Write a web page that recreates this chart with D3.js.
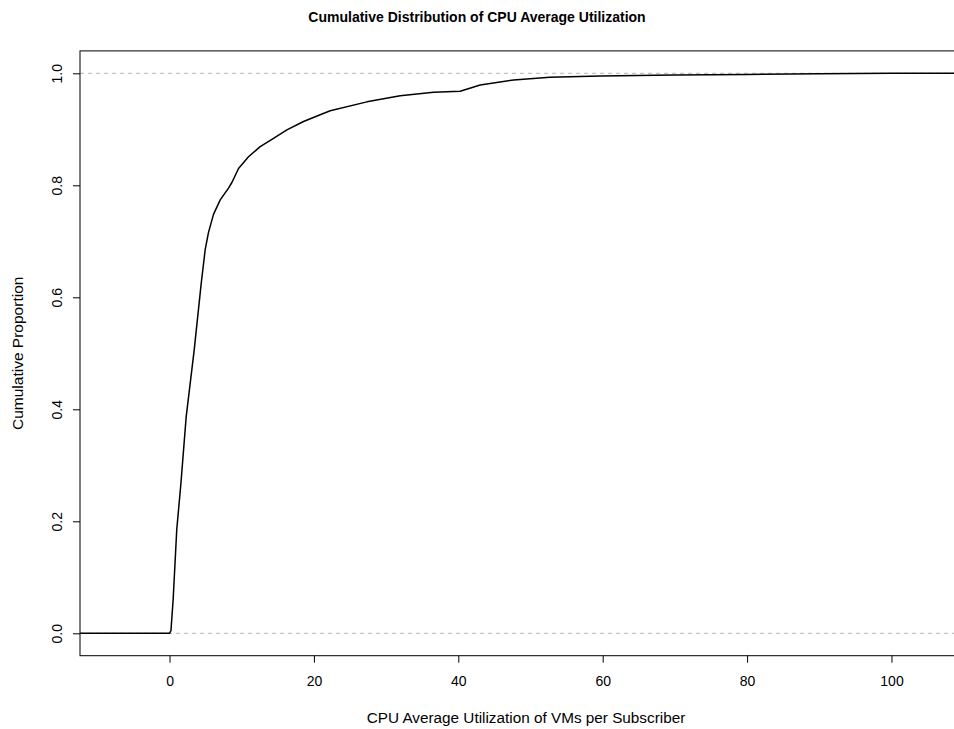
<!DOCTYPE html>
<html>
<head>
<meta charset="utf-8">
<script src="https://cdn.jsdelivr.net/npm/d3@7"></script>
<style>
  html, body { margin: 0; padding: 0; background: #fff; }
  svg text { font-family: "Liberation Sans", Arial, sans-serif; fill: #000; }
</style>
</head>
<body>
<div id="chart"></div>
<script>
// ---- data ----
const cpuUtil = [0.0, 0.2, 0.5, 1.0, 1.58, 2.31, 3.42, 4.39, 4.94, 5.4, 6.09, 7.02, 8.17, 8.64, 9.56,
  10.94, 12.56, 14.4, 16.26, 18.56, 20.87, 22.26, 27.34, 31.95, 36.57, 40.26, 43.03, 47.65, 52.7,
  59.65, 70, 80, 90, 100];
const cumProp = [0.0, 0.005, 0.06, 0.185, 0.268, 0.387, 0.506, 0.625, 0.685, 0.716, 0.748, 0.774, 0.795,
  0.805, 0.83, 0.851, 0.869, 0.884, 0.899, 0.914, 0.926, 0.933, 0.949, 0.960, 0.966, 0.968, 0.979,
  0.988, 0.993, 0.995, 0.997, 0.998, 0.999, 1.0];
const xTicks = [0, 20, 40, 60, 80, 100];
const yTicks = [0.0, 0.2, 0.4, 0.6, 0.8, 1.0];
const refLines = [0, 1];
const titleText = "Cumulative Distribution of CPU Average Utilization";
const xTitle = "CPU Average Utilization of VMs per Subscriber";
const yTitle = "Cumulative Proportion";

// ---- layout ----
const W = 954, H = 729;
const plot = { left: 80, right: 981, top: 50.9, bottom: 655.7 };
const xDomain = [-12.4, 112.4];
const yDomain = [-0.04, 1.04];

const svg = d3.select("#chart").append("svg")
  .attr("width", W).attr("height", H);

const x = d3.scaleLinear().domain(xDomain).range([plot.left, plot.right]);
const y = d3.scaleLinear().domain(yDomain).range([plot.bottom, plot.top]);

// reference dashed lines
svg.append("g").selectAll("line").data(refLines).join("line")
  .attr("x1", plot.left).attr("x2", plot.right)
  .attr("y1", d => y(d)).attr("y2", d => y(d))
  .attr("stroke", "#b3b3b3").attr("stroke-width", 1)
  .attr("stroke-dasharray", "4,4");

// ecdf curve (extend to plot edges as R does)
const pts = cpuUtil.map((v, i) => [v, cumProp[i]]);
const full = [[xDomain[0], cumProp[0]], ...pts, [xDomain[1], cumProp[cumProp.length - 1]]];
svg.append("path")
  .datum(full)
  .attr("fill", "none")
  .attr("stroke", "#000")
  .attr("stroke-width", 1.5)
  .attr("stroke-linejoin", "round")
  .attr("d", d3.line().x(d => x(d[0])).y(d => y(d[1])));

// frame
svg.append("rect")
  .attr("x", plot.left).attr("y", plot.top)
  .attr("width", plot.right - plot.left).attr("height", plot.bottom - plot.top)
  .attr("fill", "none").attr("stroke", "#000").attr("stroke-width", 1);

// x axis
const xAxis = d3.axisBottom(x).tickValues(xTicks).tickSize(7).tickPadding(13)
  .tickFormat(d3.format("d"));
const gx = svg.append("g").attr("transform", `translate(0,${plot.bottom})`).call(xAxis);
gx.select(".domain").remove();
gx.selectAll("text").style("font-size", "14px").attr("font-family", null);
gx.selectAll("line").attr("stroke", "#000");

// y axis
const yAxis = d3.axisLeft(y).tickValues(yTicks).tickSize(7).tickFormat(d3.format(".1f"));
const gy = svg.append("g").attr("transform", `translate(${plot.left},0)`).call(yAxis);
gy.select(".domain").remove();
gy.selectAll("line").attr("stroke", "#000");
gy.selectAll("text")
  .style("font-size", "14px")
  .attr("x", null).attr("dy", null)
  .attr("text-anchor", "middle")
  .attr("transform", "translate(-18,0) rotate(-90)");

// titles
svg.append("text")
  .attr("x", 477).attr("y", 22)
  .attr("text-anchor", "middle")
  .style("font-size", "14px").style("font-weight", "bold")
  .text(titleText);

svg.append("text")
  .attr("x", 526).attr("y", 723)
  .attr("text-anchor", "middle")
  .style("font-size", "15.3px")
  .text(xTitle);

svg.append("text")
  .attr("transform", `translate(23,${(plot.top + plot.bottom) / 2}) rotate(-90)`)
  .attr("text-anchor", "middle")
  .style("font-size", "15.5px")
  .text(yTitle);
</script>
</body>
</html>
